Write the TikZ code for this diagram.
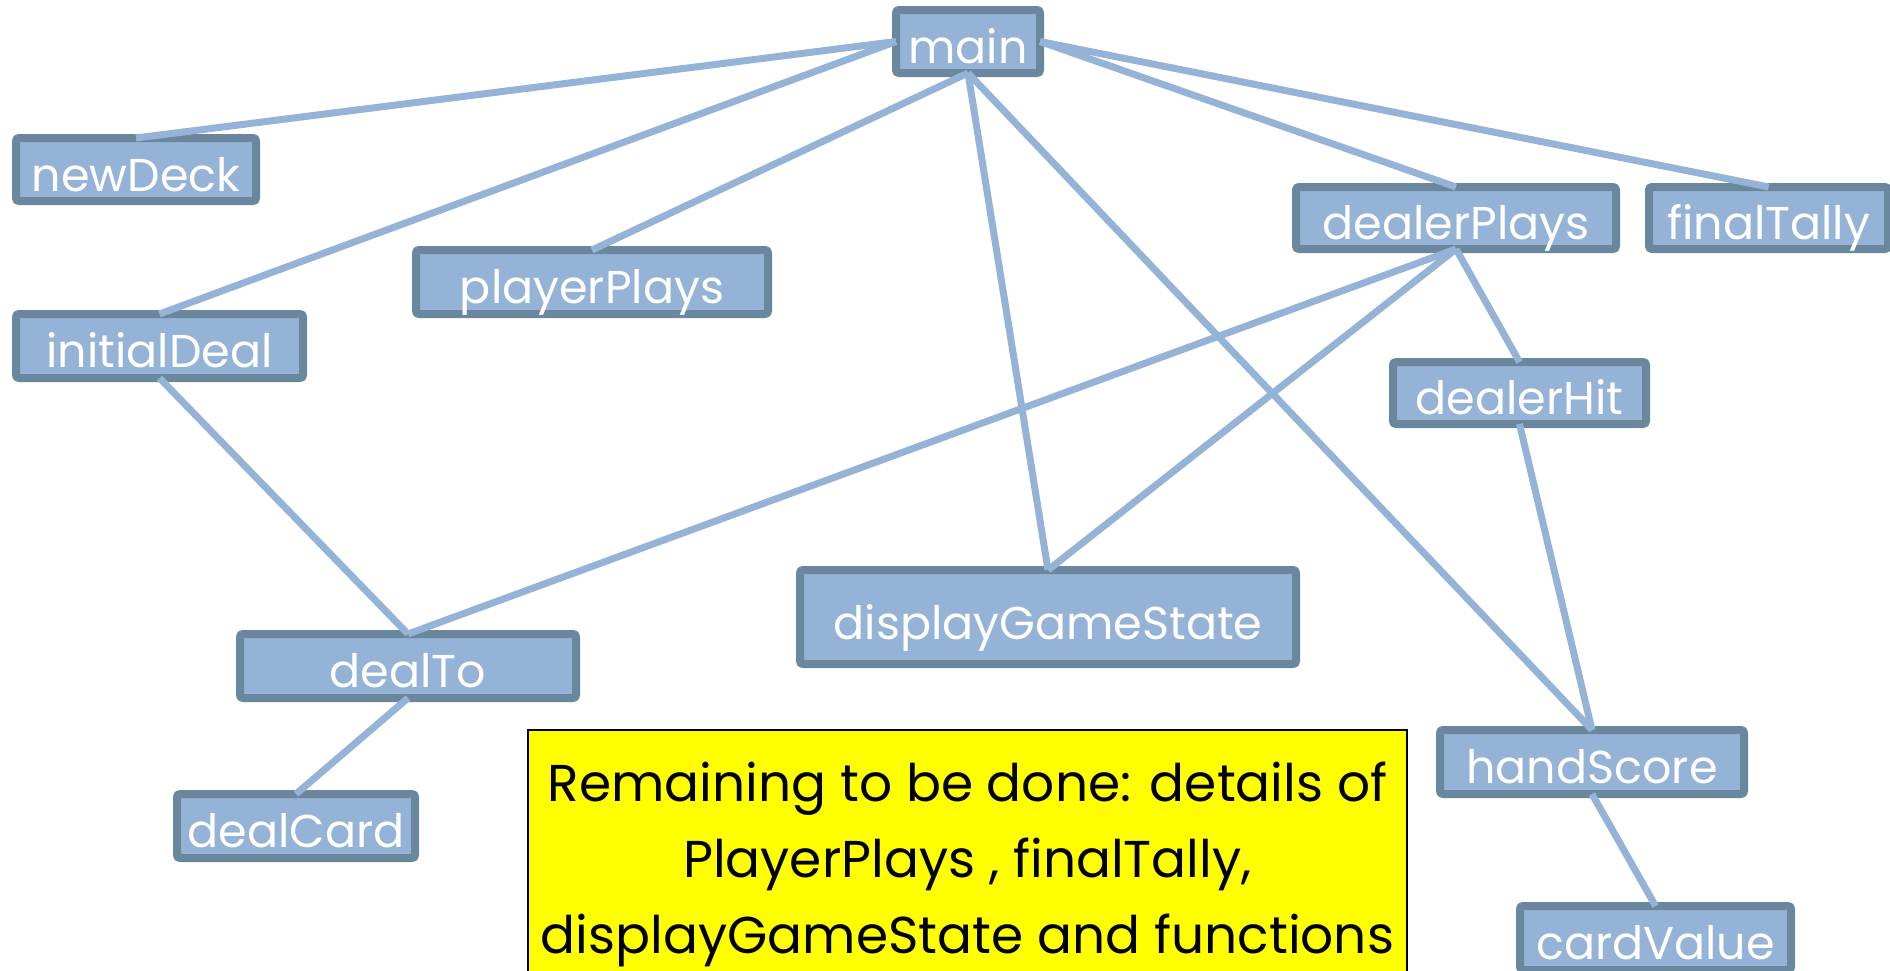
\documentclass[tikz,border=0pt]{standalone}
\usepackage{fontspec}
\newfontfamily\twcen{Poppins}
\definecolor{boxfill}{HTML}{95B3D7}
\definecolor{boxline}{HTML}{6B879E}
\definecolor{notefill}{HTML}{FFFF00}
\tikzset{
  fn/.style={rectangle, draw=boxline, fill=boxfill, line width=4pt, rounded corners=1.5pt,
    outer sep=0pt, inner sep=1pt, text=white, font=\twcen\fontsize{23}{27}\selectfont,
    text height=21.5pt, text depth=0pt, minimum height=32pt},
  link/.style={draw=boxfill, line width=3.5pt},
  note/.style={rectangle, draw=black, fill=notefill, line width=1pt, outer sep=0pt,
    inner xsep=0pt, inner ysep=8.9pt, minimum width=439.5pt, text=black,
    font=\twcen\fontsize{25.9}{38}\selectfont}
}
\begin{document}
\begin{tikzpicture}[x=0.5pt,y=-0.5pt]
\useasboundingbox (0,0) rectangle (1890,970);
\clip (0,0) rectangle (1890,970);
% nodes
\node[fn, minimum width=72pt, minimum height=31.5pt] (main) at (968,41.5) {main};
\node[fn, minimum width=120pt, minimum height=31.5pt] (newDeck) at (136,169.5) {newDeck};
\node[fn, minimum width=143.5pt] (initialDeal) at (159.5,346) {initialDeal};
\node[fn, minimum width=176pt] (playerPlays) at (592,282) {playerPlays};
\node[fn, minimum width=160pt, minimum height=31pt] (dealerPlays) at (1456,218) {dealerPlays};
\node[fn, minimum width=119.5pt, minimum height=31pt] (finalTally) at (1768.5,218) {finalTally};
\node[fn, minimum width=126.5pt, minimum height=31pt] (dealerHit) at (1519.5,393) {dealerHit};
\node[fn, minimum width=248pt, minimum height=47pt, text height=22pt] (displayGameState) at (1048,617) {displayGameState};
\node[fn, minimum width=168pt] (dealTo) at (408,666) {dealTo};
\node[fn, minimum width=119pt] (dealCard) at (296,826) {dealCard};
\node[fn, minimum width=152pt] (handScore) at (1592,762) {handScore};
\node[fn, minimum width=135.5pt] (cardValue) at (1655.5,938) {cardValue};
\node[note, anchor=base] (todo) at (967.5,801) {\setlength{\tabcolsep}{0pt}\begin{tabular}[t]{c}Remaining to be done: details of\\ PlayerPlays , finalTally,\\ displayGameState and functions\end{tabular}};
% connectors
\draw[link] (main.west) -- (newDeck.north);
\draw[link] (main.west) -- (initialDeal.north);
\draw[link] (main.south) -- (playerPlays.north);
\draw[link] (main.south) -- (displayGameState.north);
\draw[link] (main.south) -- (handScore.north);
\draw[link] (main.east) -- (dealerPlays.north);
\draw[link] (main.east) -- (finalTally.north);
\draw[link] (dealerPlays.south) -- (dealTo.north);
\draw[link] (dealerPlays.south) -- (displayGameState.north);
\draw[link] (dealerPlays.south) -- (dealerHit.north);
\draw[link] (initialDeal.south) -- (dealTo.north);
\draw[link] (dealTo.south) -- (dealCard.north);
\draw[link] (dealerHit.south) -- (handScore.north);
\draw[link] (handScore.south) -- (cardValue.north);
\end{tikzpicture}
\end{document}
